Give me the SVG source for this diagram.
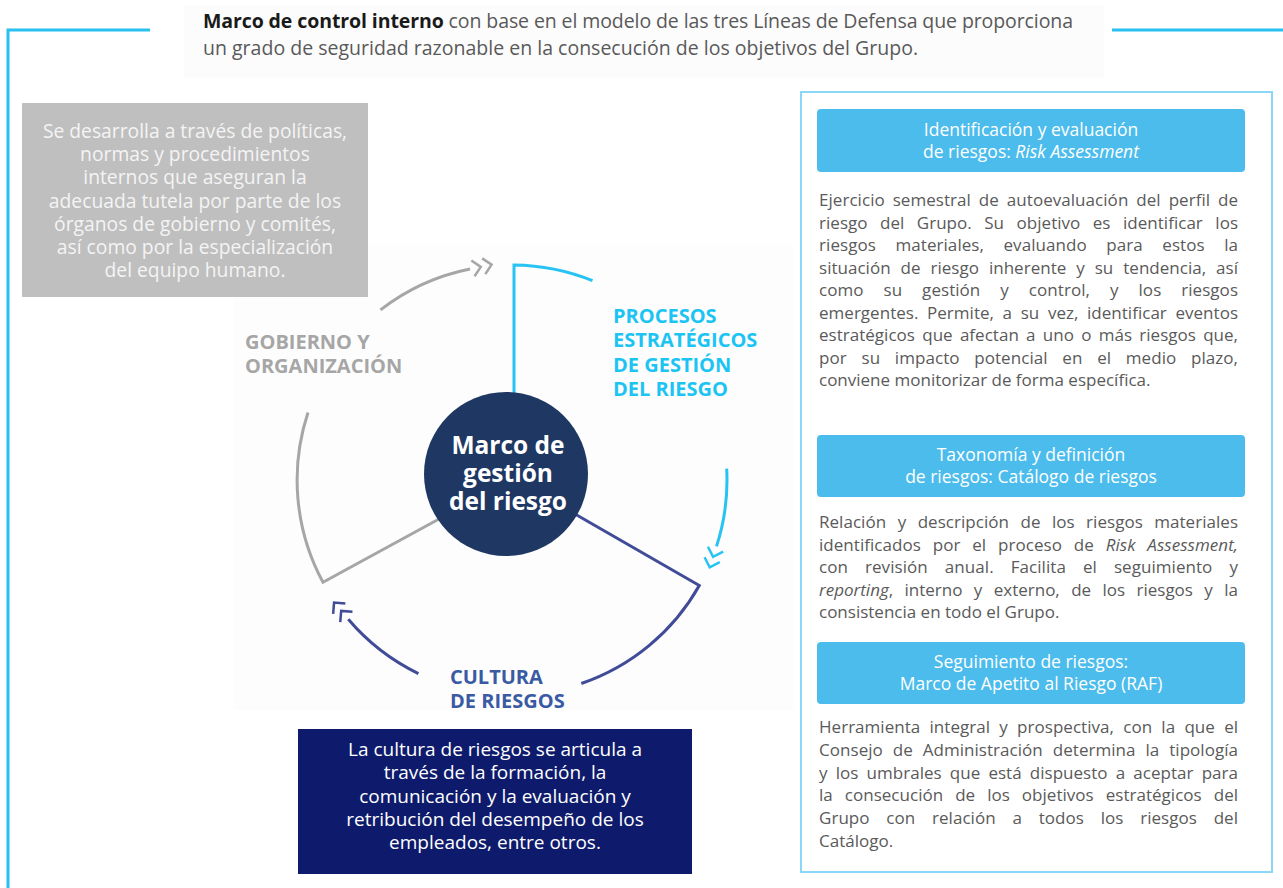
<svg xmlns="http://www.w3.org/2000/svg" width="1283" height="888" viewBox="0 0 1283 888">
<style>
.os{font-family:"Open Sans","Noto Sans","DejaVu Sans",sans-serif}
.frame{fill:none;stroke:#29c0ef;stroke-width:3}
.head{font-size:19.5px;fill:#595959}
.greyt{font-size:19.3px;fill:#f4f4f4;text-anchor:middle}
.navyt{font-size:19px;fill:#ffffff;text-anchor:middle}
.lbl{font-size:20px;font-weight:700}
.hdr{fill:#4bbcec}
.hdrt{font-size:17.5px;fill:#ffffff;text-anchor:middle}
.body{font-size:17px;fill:#5a5a5a}
.arc{fill:none;stroke-width:3;stroke-linecap:butt}
</style>
<defs>
<marker id="chevG" markerUnits="userSpaceOnUse" markerWidth="40" markerHeight="30" refX="-3" refY="0" orient="auto" viewBox="-10 -15 40 30" overflow="visible">
<path d="M0,-8 L8,0 L0,8 M11,-8 L19,0 L11,8" fill="none" stroke="#a6a6a6" stroke-width="2.5"/>
</marker>
<marker id="chevC" markerUnits="userSpaceOnUse" markerWidth="40" markerHeight="30" refX="-3" refY="0" orient="auto" viewBox="-10 -15 40 30" overflow="visible">
<path d="M0,-8 L8,0 L0,8 M11,-8 L19,0 L11,8" fill="none" stroke="#27c3f2" stroke-width="2.5"/>
</marker>
<marker id="chevN" markerUnits="userSpaceOnUse" markerWidth="40" markerHeight="30" refX="-3" refY="0" orient="auto" viewBox="-10 -15 40 30" overflow="visible">
<path d="M0,-8 L8,0 L0,8 M11,-8 L19,0 L11,8" fill="none" stroke="#404c98" stroke-width="2.5"/>
</marker>
</defs>
<rect width="1283" height="888" fill="#ffffff"/>
<g id="frame">
<path class="frame" d="M8,888 L8,30 L150,30"/>
<path class="frame" d="M1112,30 L1283,30"/>
<rect x="184" y="5" width="920" height="73" fill="#fcfcfc"/>
<rect x="233" y="243" width="560" height="467" fill="#fdfdfd"/>
</g>
<g id="heading" class="os">
<text class="head" x="203" y="28" textLength="870" lengthAdjust="spacing"><tspan font-weight="700" fill="#1a1a1a">Marco de control interno</tspan> con base en el modelo de las tres Líneas de Defensa que proporciona</text>
<text class="head" x="203" y="55" textLength="715" lengthAdjust="spacing">un grado de seguridad razonable en la consecución de los objetivos del Grupo.</text>
</g>
<g id="gobierno-box" class="os">
<rect x="22" y="103" width="346" height="194" fill="#bfbfbf"/>
<text class="greyt" x="195" y="138">Se desarrolla a través de políticas,</text>
<text class="greyt" x="195" y="161">normas y procedimientos</text>
<text class="greyt" x="195" y="184">internos que aseguran la</text>
<text class="greyt" x="195" y="208">adecuada tutela por parte de los</text>
<text class="greyt" x="195" y="231">órganos de gobierno y comités,</text>
<text class="greyt" x="195" y="254">así como por la especialización</text>
<text class="greyt" x="195" y="277">del equipo humano.</text>
</g>
<g id="connectors">
<path class="arc" stroke="#a6a6a6" d="M380.5,309.9 A215,215 0 0 1 470,269" marker-end="url(#chevG)"/>
<path class="arc" stroke="#a6a6a6" d="M308,412.5 A215,215 0 0 0 323,582.3 L450,513"/>
<path class="arc" stroke="#27c3f2" d="M514,410 L514,265 A215,215 0 0 1 592.5,280.7"/>
<path class="arc" stroke="#27c3f2" d="M726.7,468.7 A215,215 0 0 1 716.5,546.4" marker-end="url(#chevC)"/>
<path class="arc" stroke="#404c98" d="M568,510 L699.3,585.5 A215,215 0 0 1 581.3,683.5"/>
<path class="arc" stroke="#404c98" d="M418.4,673.6 A215,215 0 0 1 348.3,619.3" marker-end="url(#chevN)"/>
</g>
<g id="centro" class="os">
<circle cx="506" cy="474" r="82" fill="#1f3763"/>
<text x="508" y="454" font-size="24.5" font-weight="700" fill="#ffffff" text-anchor="middle">Marco de</text>
<text x="508" y="482" font-size="24.5" font-weight="700" fill="#ffffff" text-anchor="middle">gestión</text>
<text x="508" y="510" font-size="24.5" font-weight="700" fill="#ffffff" text-anchor="middle">del riesgo</text>
</g>
<g id="gobierno" class="os">
<text class="lbl" x="245" y="349" fill="#a6a6a6">GOBIERNO Y</text>
<text class="lbl" x="245" y="373" fill="#a6a6a6">ORGANIZACIÓN</text>
</g>
<g id="procesos" class="os">
<text class="lbl" x="613" y="323" fill="#1cc4f4">PROCESOS</text>
<text class="lbl" x="613" y="347" fill="#1cc4f4">ESTRATÉGICOS</text>
<text class="lbl" x="613" y="372" fill="#1cc4f4">DE GESTIÓN</text>
<text class="lbl" x="613" y="396" fill="#1cc4f4">DEL RIESGO</text>
</g>
<g id="cultura" class="os">
<text class="lbl" x="450" y="684" fill="#3a5aa4">CULTURA</text>
<text class="lbl" x="450" y="708" fill="#3a5aa4">DE RIESGOS</text>
</g>
<g id="cultura-box" class="os">
<rect x="298" y="729" width="394" height="145" fill="#0e1b6c"/>
<text class="navyt" x="495" y="756">La cultura de riesgos se articula a</text>
<text class="navyt" x="495" y="779">través de la formación, la</text>
<text class="navyt" x="495" y="803">comunicación y la evaluación y</text>
<text class="navyt" x="495" y="826">retribución del desempeño de los</text>
<text class="navyt" x="495" y="849">empleados, entre otros.</text>
</g>
<g id="panel">
<rect x="801" y="92" width="471" height="780" fill="#ffffff" stroke="#8ad8f5" stroke-width="2"/>
</g>
<g id="risk-assessment" class="os">
<rect class="hdr" x="817" y="109" width="428" height="63" rx="4"/>
<text class="hdrt" x="1031" y="136">Identificación y evaluación</text>
<text class="hdrt" x="1031" y="158">de riesgos: <tspan font-style="italic">Risk Assessment</tspan></text>
<text class="body" x="819" y="206" textLength="419" lengthAdjust="spacing" word-spacing="3.5">Ejercicio semestral de autoevaluación del perfil de</text>
<text class="body" x="819" y="228.5" textLength="419" lengthAdjust="spacing" word-spacing="8">riesgo del Grupo. Su objetivo es identificar los</text>
<text class="body" x="819" y="251" textLength="419" lengthAdjust="spacing" word-spacing="15">riesgos materiales, evaluando para estos la</text>
<text class="body" x="819" y="273.5" textLength="419" lengthAdjust="spacing" word-spacing="5.5">situación de riesgo inherente y su tendencia, así</text>
<text class="body" x="819" y="296" textLength="419" lengthAdjust="spacing" word-spacing="15.5">como su gestión y control, y los riesgos</text>
<text class="body" x="819" y="318.5" textLength="419" lengthAdjust="spacing" word-spacing="4.2">emergentes. Permite, a su vez, identificar eventos</text>
<text class="body" x="819" y="341" textLength="419" lengthAdjust="spacing" word-spacing="2.8">estratégicos que afectan a uno o más riesgos que,</text>
<text class="body" x="819" y="363.5" textLength="419" lengthAdjust="spacing" word-spacing="10.3">por su impacto potencial en el medio plazo,</text>
<text class="body" x="819" y="386">conviene monitorizar de forma específica.</text>
</g>
<g id="catalogo" class="os">
<rect class="hdr" x="817" y="435" width="428" height="62" rx="4"/>
<text class="hdrt" x="1031" y="461">Taxonomía y definición</text>
<text class="hdrt" x="1031" y="483">de riesgos: Catálogo de riesgos</text>
<text class="body" x="819" y="528" textLength="419" lengthAdjust="spacing" word-spacing="7">Relación y descripción de los riesgos materiales</text>
<text class="body" x="819" y="550.5" textLength="419" lengthAdjust="spacing" word-spacing="7.4">identificados por el proceso de <tspan font-style="italic">Risk Assessment,</tspan></text>
<text class="body" x="819" y="573" textLength="419" lengthAdjust="spacing" word-spacing="12.6">con revisión anual. Facilita el seguimiento y</text>
<text class="body" x="819" y="595.5" textLength="419" lengthAdjust="spacing" word-spacing="7"><tspan font-style="italic">reporting</tspan>, interno y externo, de los riesgos y la</text>
<text class="body" x="819" y="618">consistencia en todo el Grupo.</text>
</g>
<g id="raf" class="os">
<rect class="hdr" x="817" y="642" width="428" height="62" rx="4"/>
<text class="hdrt" x="1031" y="668">Seguimiento de riesgos:</text>
<text class="hdrt" x="1031" y="690">Marco de Apetito al Riesgo (RAF)</text>
<text class="body" x="819" y="733" textLength="419" lengthAdjust="spacing" word-spacing="4.8">Herramienta integral y prospectiva, con la que el</text>
<text class="body" x="819" y="756" textLength="419" lengthAdjust="spacing" word-spacing="5.5">Consejo de Administración determina la tipología</text>
<text class="body" x="819" y="778.5" textLength="419" lengthAdjust="spacing" word-spacing="3.7">y los umbrales que está dispuesto a aceptar para</text>
<text class="body" x="819" y="801" textLength="419" lengthAdjust="spacing" word-spacing="7.5">la consecución de los objetivos estratégicos del</text>
<text class="body" x="819" y="824" textLength="419" lengthAdjust="spacing" word-spacing="12.3">Grupo con relación a todos los riesgos del</text>
<text class="body" x="819" y="846.5">Catálogo.</text>
</g>
</svg>
